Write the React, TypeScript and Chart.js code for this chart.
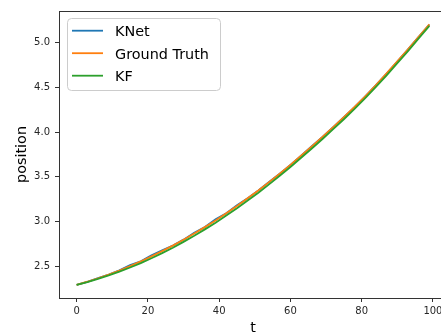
import React, { useEffect, useRef } from "react";
import { Chart, registerables } from "chart.js";

Chart.register(...registerables);

const tValues = [0, 3, 6, 9, 12, 15, 18, 21, 24, 27, 30, 33, 36, 39, 42, 45, 48, 51, 54, 57, 60, 63, 66, 69, 72, 75, 78, 81, 84, 87, 90, 93, 96, 99];

const groundTruth = [2.289, 2.325, 2.364, 2.406, 2.451, 2.5, 2.552, 2.608, 2.667, 2.729, 2.795, 2.864, 2.936, 3.011, 3.09, 3.172, 3.258, 3.346, 3.439, 3.534, 3.633, 3.735, 3.838, 3.945, 4.055, 4.165, 4.28, 4.4, 4.525, 4.655, 4.79, 4.925, 5.065, 5.205];

const knet = [2.289, 2.324, 2.366, 2.405, 2.452, 2.512, 2.553, 2.62, 2.677, 2.73, 2.796, 2.872, 2.937, 3.023, 3.091, 3.182, 3.259, 3.347, 3.44, 3.535, 3.633, 3.735, 3.842, 3.946, 4.055, 4.166, 4.279, 4.4, 4.525, 4.654, 4.789, 4.924, 5.064, 5.203];

const kf = [2.289, 2.321, 2.357, 2.396, 2.438, 2.484, 2.534, 2.588, 2.645, 2.706, 2.771, 2.839, 2.911, 2.986, 3.065, 3.147, 3.233, 3.321, 3.414, 3.51, 3.609, 3.712, 3.815, 3.922, 4.033, 4.143, 4.258, 4.379, 4.504, 4.634, 4.77, 4.906, 5.047, 5.188];

const seriesLabels = ["KNet", "Ground Truth", "KF"];
const seriesColors = ["#1f77b4", "#ff7f0e", "#2ca02c"];
const xTicks = [0, 20, 40, 60, 80, 100];
const yTicks = [2.5, 3.0, 3.5, 4.0, 4.5, 5.0];

const FONT = "'DejaVu Sans', sans-serif";

const framePlugin = {
  id: "frameAndLegend",
  afterDraw(chart: any) {
    const ctx = chart.ctx;
    const a = chart.chartArea;
    ctx.save();
    ctx.strokeStyle = "#333";
    ctx.lineWidth = 1;
    ctx.beginPath();
    ctx.moveTo(a.left, a.top + 0.5);
    ctx.lineTo(a.right, a.top + 0.5);
    ctx.moveTo(a.right - 0.5, a.top);
    ctx.lineTo(a.right - 0.5, a.bottom);
    ctx.stroke();

    // legend
    const bx = a.left + 8;
    const by = a.top + 7;
    const bw = 153;
    const bh = 72;
    ctx.beginPath();
    ctx.roundRect(bx + 0.5, by + 0.5, bw, bh, 4);
    ctx.fillStyle = "rgba(255,255,255,0.8)";
    ctx.fill();
    ctx.strokeStyle = "#cccccc";
    ctx.lineWidth = 1;
    ctx.stroke();
    ctx.font = "14.4px " + FONT;
    ctx.textBaseline = "alphabetic";
    ctx.textAlign = "left";
    chart.data.datasets.forEach((ds: any, i: number) => {
      const cy = by + 12.7 + i * 22.5;
      ctx.strokeStyle = ds.borderColor;
      ctx.lineWidth = 1.8;
      ctx.beginPath();
      ctx.moveTo(bx + 5, cy);
      ctx.lineTo(bx + 36, cy);
      ctx.stroke();
      ctx.fillStyle = "#000";
      ctx.fillText(ds.label, bx + 48, cy + 5.3);
    });
    ctx.restore();
  },
};

export default function App() {
  const ref = useRef<HTMLCanvasElement>(null);
  useEffect(() => {
    document.body.style.margin = "0";
    document.body.style.overflow = "hidden";
    const series = [knet, groundTruth, kf];
    const chart = new Chart(ref.current!, {
      type: "line",
      data: {
        datasets: series.map((s, i) => ({
          label: seriesLabels[i],
          data: s.map((v, j) => ({ x: tValues[j], y: v })),
          borderColor: seriesColors[i],
          backgroundColor: seriesColors[i],
          borderWidth: 1.8,
          pointRadius: 0,
          tension: 0,
          fill: false,
          order: 3 - i,
        })),
      },
      options: {
        animation: false,
        responsive: false,
        events: [],
        layout: { padding: { left: 0, top: 8, right: 13, bottom: 0 } },
        plugins: { legend: { display: false }, tooltip: { enabled: false } },
        scales: {
          x: {
            type: "linear",
            min: -4.95,
            max: 103.95,
            afterBuildTicks: (s: any) => {
              s.ticks = xTicks.map((v) => ({ value: v }));
            },
            afterFit: (s: any) => {
              s.height = 37;
            },
            grid: { drawOnChartArea: false, tickLength: 4, tickColor: "#333", color: "#333" },
            border: { color: "#333", width: 1 },
            ticks: { font: { family: FONT, size: 10 }, color: "#262626", padding: 3, maxRotation: 0, autoSkip: false },
            title: { display: true, text: "t", font: { family: FONT, size: 14.4 }, color: "#000", padding: { top: 0, bottom: -2 } },
          },
          y: {
            type: "linear",
            min: 2.143,
            max: 5.354,
            afterBuildTicks: (s: any) => {
              s.ticks = yTicks.map((v) => ({ value: v }));
            },
            afterFit: (s: any) => {
              s.width = 59;
            },
            grid: { drawOnChartArea: false, tickLength: 4, tickColor: "#333", color: "#333" },
            border: { color: "#333", width: 1 },
            ticks: {
              font: { family: FONT, size: 10 },
              color: "#262626",
              padding: 5,
              autoSkip: false,
              callback: (v: any) => Number(v).toFixed(1),
            },
            title: { display: true, text: "position", font: { family: FONT, size: 14.4 }, color: "#000", padding: { top: 14, bottom: 0 } },
          },
        },
      },
      plugins: [framePlugin],
    });
    return () => chart.destroy();
  }, []);
  return (
    <div style={{ width: 460, height: 335 }}>
      <canvas ref={ref} width={460} height={335} style={{ display: "block" }} />
    </div>
  );
}
